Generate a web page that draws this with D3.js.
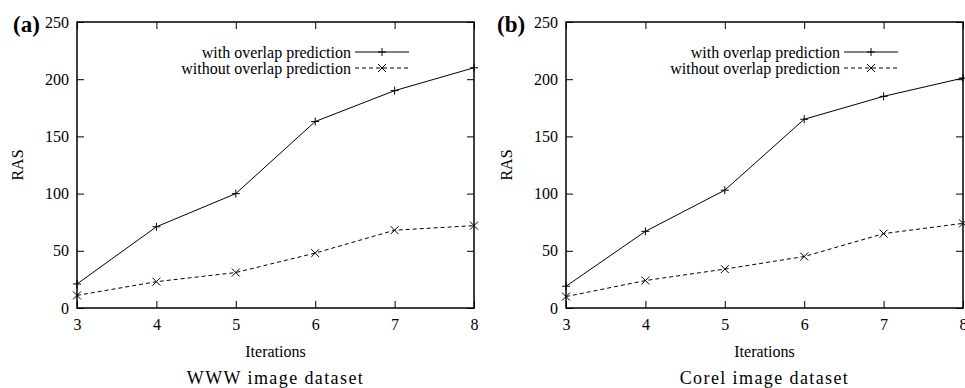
<!DOCTYPE html>
<html>
<head>
<meta charset="utf-8">
<script src="https://cdn.jsdelivr.net/npm/d3@7"></script>
<style>
  body { margin: 0; background: #fff; }
  svg { display: block; }
  svg text { font-family: "Liberation Serif", "DejaVu Serif", serif; }
</style>
</head>
<body>
<div id="chart"></div>
<script>
// data
const iterations = [3, 4, 5, 6, 7, 8];
const yTicks = [0, 50, 100, 150, 200, 250];
const seriesNames = ["with overlap prediction", "without overlap prediction"];

const wwwWith = [21, 71, 100, 163, 190, 210];
const wwwWithout = [11, 23, 31, 48, 68, 72];
const corelWith = [19, 67, 103, 165, 185, 201];
const corelWithout = [10, 24, 34, 45, 65, 74];

const panels = [
  { tag: "(a)", caption: "WWW image dataset", left: 77, right: 474, tagX: 13, series: [wwwWith, wwwWithout] },
  { tag: "(b)", caption: "Corel image dataset", left: 566, right: 963, tagX: 497, series: [corelWith, corelWithout] }
];

const W = 965, H = 388;
const plotTop = 22, plotBottom = 308;
const fs = 16;

const svg = d3.select("#chart").append("svg")
  .attr("width", W).attr("height", H);

function drawMarker(g, type, cx, cy) {
  const s = 4;
  const d = type === 0
    ? `M${cx - s},${cy}H${cx + s}M${cx},${cy - s}V${cy + s}`
    : `M${cx - s},${cy - s}L${cx + s},${cy + s}M${cx - s},${cy + s}L${cx + s},${cy - s}`;
  g.append("path").attr("d", d).attr("stroke", "#000").attr("stroke-width", 1);
}

panels.forEach(p => {
  const g = svg.append("g");

  const x = d3.scaleLinear().domain([3, 8]).range([p.left, p.right]);
  const y = d3.scaleLinear().domain([0, 250]).range([plotBottom, plotTop]);

  // axes, ticks pointing inward on all four sides
  const axisLeft = d3.axisLeft(y).tickValues(yTicks).tickFormat(d3.format("d")).tickSizeInner(-7).tickSizeOuter(0).tickPadding(8);
  const axisRight = d3.axisRight(y).tickValues(yTicks).tickSizeInner(-7).tickSizeOuter(0).tickFormat("");
  const axisBottom = d3.axisBottom(x).tickValues(iterations).tickFormat(d3.format("d")).tickSizeInner(-7).tickSizeOuter(0).tickPadding(11);
  const axisTop = d3.axisTop(x).tickValues(iterations).tickSizeInner(-7).tickSizeOuter(0).tickFormat("");

  const ax = [
    g.append("g").attr("transform", `translate(${p.left},0)`).call(axisLeft),
    g.append("g").attr("transform", `translate(${p.right},0)`).call(axisRight),
    g.append("g").attr("transform", `translate(0,${plotBottom})`).call(axisBottom),
    g.append("g").attr("transform", `translate(0,${plotTop})`).call(axisTop)
  ];
  ax.forEach(a => {
    a.attr("font-family", null);
    a.select(".domain").remove();
    a.selectAll("line").attr("stroke", "#000").attr("stroke-width", 1);
    a.selectAll("text").attr("font-size", fs).attr("fill", "#000");
  });

  // frame
  g.append("rect")
    .attr("x", p.left).attr("y", plotTop)
    .attr("width", p.right - p.left).attr("height", plotBottom - plotTop)
    .attr("fill", "none").attr("stroke", "#000").attr("stroke-width", 1.5);

  // series lines
  const line = d3.line().x((d, i) => x(iterations[i])).y(d => y(d));
  p.series.forEach((vals, k) => {
    g.append("path")
      .datum(vals)
      .attr("d", line)
      .attr("fill", "none")
      .attr("stroke", "#000")
      .attr("stroke-width", 1)
      .attr("stroke-dasharray", k === 1 ? "4,3" : null);
    vals.forEach((v, i) => drawMarker(g, k, x(iterations[i]), y(v)));
  });

  // legend
  const legX = p.right - 123;
  seriesNames.forEach((name, k) => {
    const ly = 52 + k * 16;
    g.append("text")
      .attr("x", legX).attr("y", ly).attr("dy", "0.35em")
      .attr("text-anchor", "end").attr("font-size", fs)
      .text(name);
    g.append("line")
      .attr("x1", legX + 4).attr("x2", legX + 58)
      .attr("y1", ly).attr("y2", ly)
      .attr("stroke", "#000").attr("stroke-width", 1)
      .attr("stroke-dasharray", k === 1 ? "4,3" : null);
    drawMarker(g, k, legX + 31, ly);
  });

  const cx = (p.left + p.right) / 2;
  const cy = (plotTop + plotBottom) / 2;
  g.append("text")
    .attr("x", cx).attr("y", 357)
    .attr("text-anchor", "middle").attr("font-size", fs)
    .text("Iterations");

  g.append("text")
    .attr("transform", `translate(${p.left - 54},${cy}) rotate(-90)`)
    .attr("text-anchor", "middle").attr("font-size", fs)
    .text("RAS");

  g.append("text")
    .attr("x", cx).attr("y", 384)
    .attr("text-anchor", "middle").attr("font-size", 18)
    .attr("letter-spacing", 1.4)
    .text(p.caption);

  g.append("text")
    .attr("x", p.tagX).attr("y", 32)
    .attr("font-size", 23).attr("font-weight", "bold")
    .text(p.tag);
});
</script>
</body>
</html>
